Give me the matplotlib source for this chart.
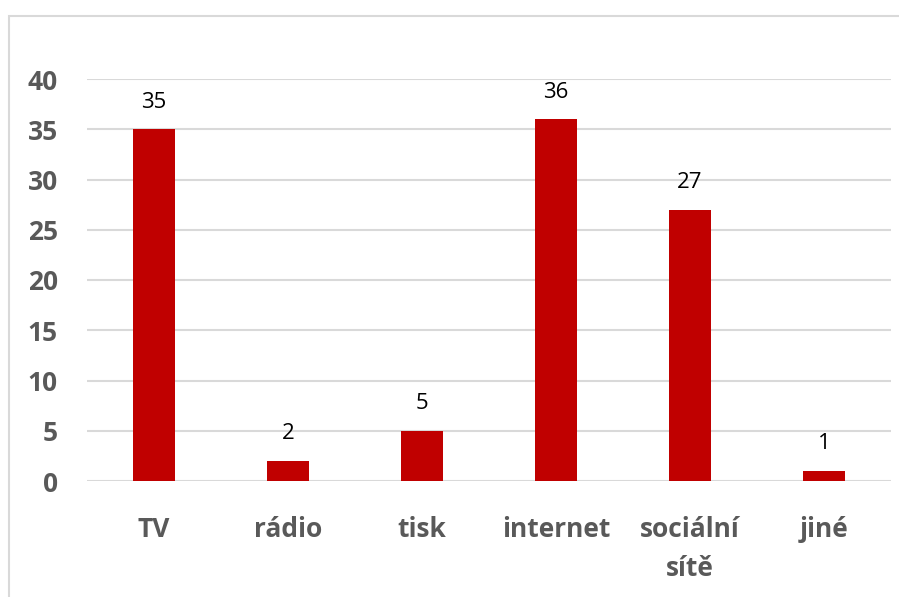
import matplotlib.pyplot as plt
from matplotlib.patches import Rectangle

categories = ['TV', 'rádio', 'tisk', 'internet', 'sociální\nsítě', 'jiné']
values = [35, 2, 5, 36, 27, 1]
yticks = [0, 5, 10, 15, 20, 25, 30, 35, 40]

plt.rcParams['font.family'] = ['Open Sans', 'DejaVu Sans']

fig = plt.figure(figsize=(8.99, 5.97), dpi=100)
ax = fig.add_axes([87 / 899, 1 - 481 / 597, 804 / 899, (481 - 79) / 597])

# outer chart frame, only left and top edges visible
fig.patches.append(Rectangle((9 / 899, -0.1), 1.2, 1 - 16 / 597 + 0.1,
                             transform=fig.transFigure, fill=False,
                             edgecolor='#d9d9d9', linewidth=1.5))

x = range(len(categories))
bars = ax.bar(x, values, width=0.31, color='#c00000', zorder=3)
ax.bar_label(bars, labels=[str(v) for v in values], padding=12, fontsize=16, color='black')

ax.set_xlim(-0.5, len(categories) - 0.5)
ax.set_ylim(0, 40)
ax.set_yticks(yticks)
ax.yaxis.grid(True, color='#d9d9d9', linewidth=1.5, zorder=0)
ax.set_xticks(list(x))
ax.set_xticklabels(categories, fontsize=19, fontweight='bold', color='#595959',
                   linespacing=1.6, va='top')
for lbl in ax.get_yticklabels():
    lbl.set_fontsize(19)
    lbl.set_fontweight('bold')
    lbl.set_color('#595959')
ax.tick_params(axis='x', length=0, pad=25)
ax.tick_params(axis='y', length=0, pad=21)
for s in ax.spines.values():
    s.set_visible(False)

plt.savefig('out.png')
